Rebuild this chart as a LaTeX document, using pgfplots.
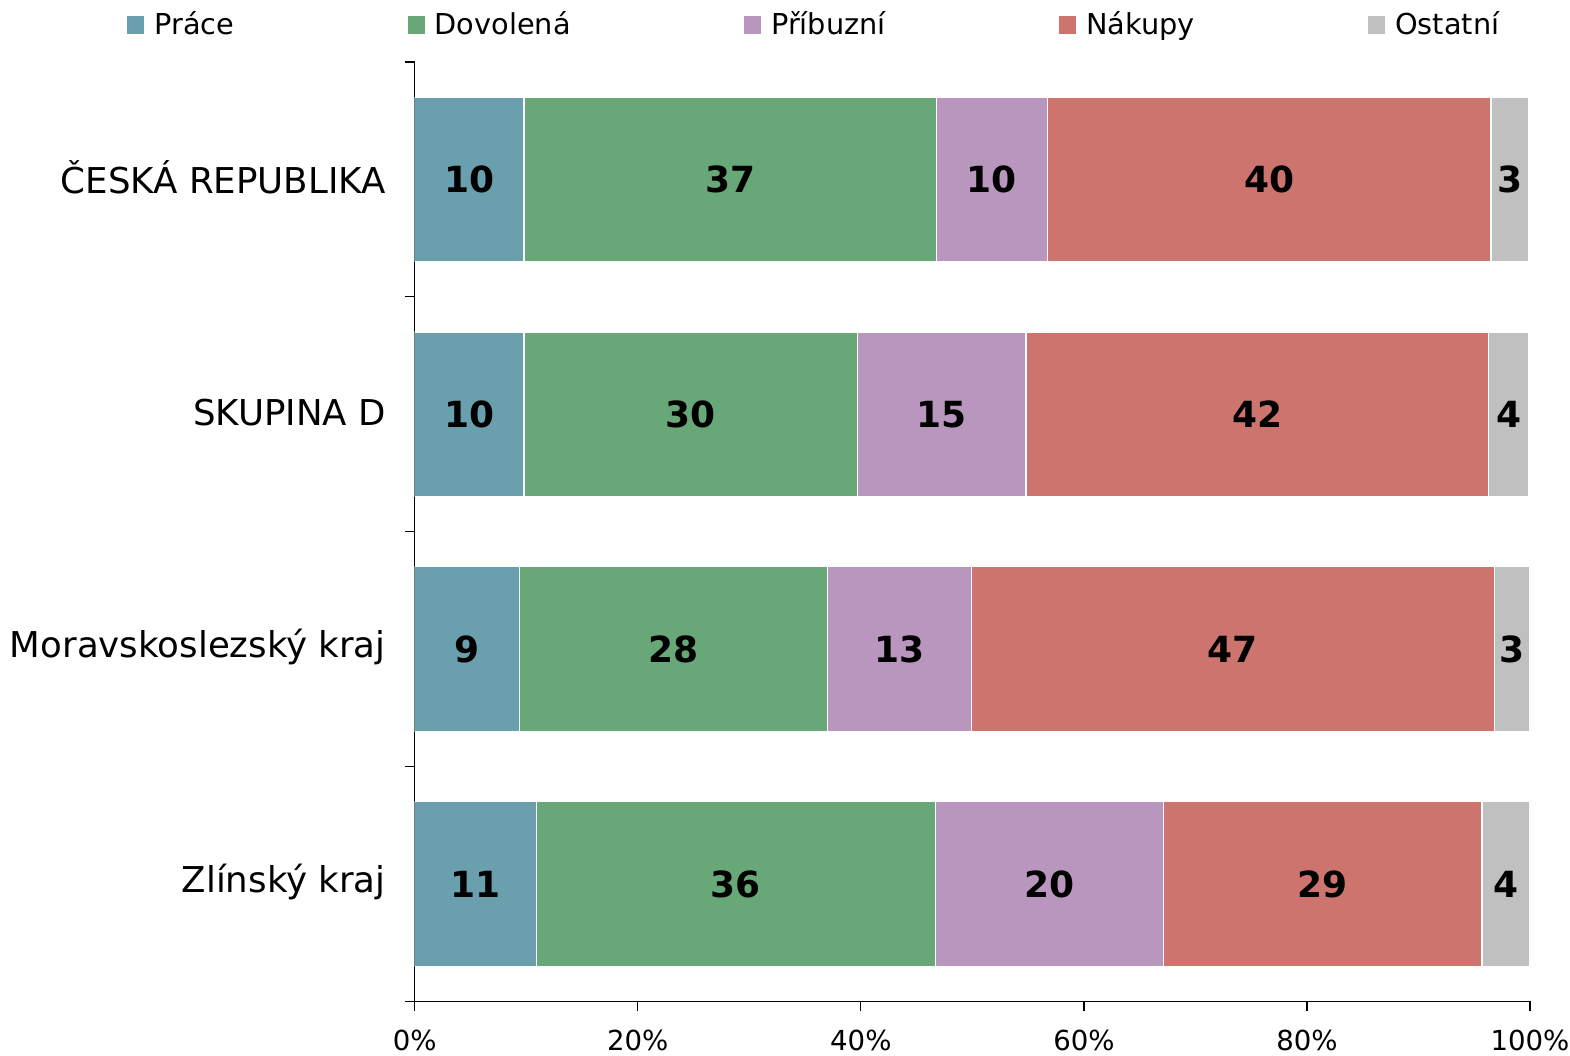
\documentclass[border=0pt]{standalone}
\usepackage{pgfplots}
\usepackage{pgfplotstable}
\pgfplotsset{compat=1.18}
\usepackage{fontspec}
\setmainfont{DejaVu Sans}
\definecolor{cPrace}{RGB}{106,159,173}
\definecolor{cDov}{RGB}{104,167,120}
\definecolor{cPrib}{RGB}{184,150,189}
\definecolor{cNak}{RGB}{205,116,111}
\definecolor{cOst}{RGB}{192,192,192}
\pgfplotstableread{
idx P D R N O
3 9.8 37.0 9.9 39.8 3.4
2 9.8 29.9 15.1 41.5 3.6
1 9.4 27.6 12.9 46.9 3.2
0 10.9 35.8 20.4 28.6 4.3
}\data
\begin{document}
\begin{tikzpicture}
\begin{axis}[
  name=ax,
  scale only axis, width=558pt, height=470pt,
  xbar stacked, bar width=0.70,
  xmin=0, xmax=100, ymin=-0.5, ymax=3.5,
  axis x line*=bottom, axis y line*=left,
  axis line style={black, line width=0.6pt},
  tick style={black, line width=0.6pt},
  tick align=outside, major tick length=5pt,
  xtick={0,20,...,100},
  xticklabels={0\%,20\%,40\%,60\%,80\%,100\%},
  xticklabel style={font=\fontsize{13.8}{16}\selectfont, yshift=-6pt},
  ytick={-0.5,0.5,1.5,2.5,3.5},
  y tick label as interval,
  yticklabels={Zlínský kraj,Moravskoslezský kraj,SKUPINA D,ČESKÁ REPUBLIKA},
  yticklabel style={font=\fontsize{17.8}{20}\selectfont, anchor=east, xshift=-6pt, yshift=1pt},
  legend columns=5,
  legend style={draw=none, fill=none, inner sep=0pt,
    at={(axis description cs:-0.2579,1.0394)}, anchor=west,
    font=\fontsize{14.4}{17}\selectfont,
    nodes={inner sep=2.5pt},
    /tikz/every even column/.append style={column sep=84.3pt}},
  legend image code/.code={\fill[#1,draw=none] (0pt,-4.5pt) rectangle (8.5pt,4.5pt); \path[draw=none,fill=none] (0pt,0pt) -- (11pt,0pt);},
]
\addplot[fill=cPrace, draw=white, line width=0.6pt] table[x=P, y=idx] {\data};
\addplot[fill=cDov, draw=white, line width=0.6pt] table[x=D, y=idx] {\data};
\addplot[fill=cPrib, draw=white, line width=0.6pt] table[x=R, y=idx] {\data};
\addplot[fill=cNak, draw=white, line width=0.6pt] table[x=N, y=idx] {\data};
\addplot[fill=cOst, draw=white, line width=0.6pt] table[x=O, y=idx] {\data};
\legend{Práce,Dovolená,Příbuzní,Nákupy,Ostatní}
\end{axis}
\begin{axis}[
  scale only axis, width=558pt, height=470pt,
  xmin=0, xmax=100, ymin=-0.5, ymax=3.5,
  hide axis,
  nodes near coords={\pgfmathprintnumber[fixed,precision=0]{\pgfplotspointmeta}},
  every node near coord/.append style={anchor=center, font=\bfseries\fontsize{18}{20}\selectfont, text=black},
  /pgf/number format/assume math mode=true,
]
\addplot[draw=none, mark=none, point meta=explicit] table[x expr=0.5*\thisrow{P}, y=idx, meta=P] {\data};
\addplot[draw=none, mark=none, point meta=explicit] table[x expr=\thisrow{P}+0.5*\thisrow{D}, y=idx, meta=D] {\data};
\addplot[draw=none, mark=none, point meta=explicit] table[x expr=\thisrow{P}+\thisrow{D}+0.5*\thisrow{R}, y=idx, meta=R] {\data};
\addplot[draw=none, mark=none, point meta=explicit] table[x expr=\thisrow{P}+\thisrow{D}+\thisrow{R}+0.5*\thisrow{N}, y=idx, meta=N] {\data};
\addplot[draw=none, mark=none, point meta=explicit] table[x expr=\thisrow{P}+\thisrow{D}+\thisrow{R}+\thisrow{N}+0.5*\thisrow{O}, y=idx, meta=O] {\data};
\end{axis}
\path (ax.south west) ++(-207.5pt,-27pt) coordinate (bbA);
\path (ax.north east) ++(20pt,31pt) coordinate (bbB);
\pgfresetboundingbox
\path (bbA) rectangle (bbB);
\end{tikzpicture}
\end{document}
